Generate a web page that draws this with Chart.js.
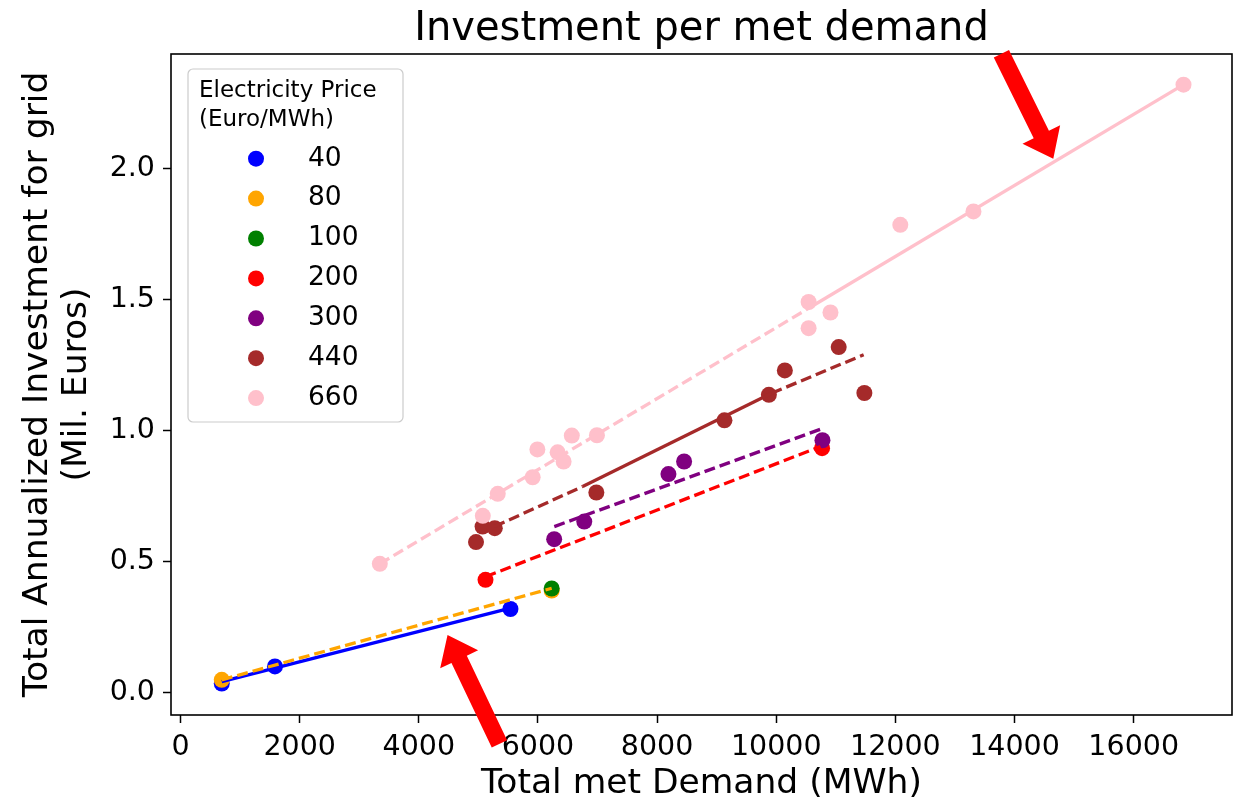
<!DOCTYPE html>
<html>
<head>
<meta charset="utf-8">
<title>Investment per met demand</title>
<script src="https://cdn.jsdelivr.net/npm/chart.js"></script>
<style>
    body { margin: 0; background: #fff; }
    #wrap { width: 1241px; height: 803px; }
</style>
</head>
<body>
<div id="wrap"><canvas id="chart" width="1241" height="803"></canvas></div>
<script type="text/javascript">
    // electricity price groups (Euro/MWh)
    var prices = ['40', '80', '100', '200', '300', '440', '660'];
    var priceColors = ['#0000ff', '#ffa500', '#008000', '#ff0000', '#800080', '#a52a2a', '#ffc0cb'];

    // scatter points: met demand (MWh) / annualized grid investment (Mil. Euros)
    var demand40 = [692, 1585, 5538];
    var invest40 = [0.036, 0.101, 0.320];
    var demand80 = [692, 6230];
    var invest80 = [0.050, 0.390];
    var demand100 = [6230];
    var invest100 = [0.398];
    var demand200 = [5119, 10769];
    var invest200 = [0.431, 0.933];
    var demand300 = [6272, 6777, 8190, 8453, 10775];
    var invest300 = [0.586, 0.653, 0.834, 0.882, 0.963];
    var demand440 = [4960, 5070, 5275, 6980, 9130, 9876, 10144, 11048, 11479];
    var invest440 = [0.575, 0.634, 0.628, 0.764, 1.039, 1.136, 1.229, 1.318, 1.143];
    var demand660 = [3345, 5074, 5325, 5911, 5990, 6330, 6430, 6568, 6990, 10543, 10543, 10910, 12082, 13310, 16836];
    var invest660 = [0.492, 0.675, 0.759, 0.822, 0.928, 0.917, 0.882, 0.981, 0.982, 1.390, 1.490, 1.450, 1.784, 1.835, 2.318];

    // trend lines (break points), style per segment
    var fitDemand40 = [692, 5538];
    var fitInvest40 = [0.043, 0.323];
    var fitStyle40 = ['solid'];
    var fitDemand80 = [692, 6230];
    var fitInvest80 = [0.050, 0.399];
    var fitStyle80 = ['dash'];
    var fitDemand200 = [5119, 10742];
    var fitInvest200 = [0.443, 0.939];
    var fitStyle200 = ['dash'];
    var fitDemand300 = [6274, 10742];
    var fitInvest300 = [0.634, 1.005];
    var fitStyle300 = ['dash'];
    var fitDemand440 = [5270, 6750, 9920, 11467];
    var fitInvest440 = [0.634, 0.787, 1.142, 1.289];
    var fitStyle440 = ['dash', 'solid', 'dash'];
    var fitDemand660 = [3345, 10543, 16836];
    var fitInvest660 = [0.492, 1.466, 2.318];
    var fitStyle660 = ['dash', 'solid'];

    var xTicks = [0, 2000, 4000, 6000, 8000, 10000, 12000, 14000, 16000];
    var yTicks = [0.0, 0.5, 1.0, 1.5, 2.0];

    var demandByPrice = [demand40, demand80, demand100, demand200, demand300, demand440, demand660];
    var investByPrice = [invest40, invest80, invest100, invest200, invest300, invest440, invest660];
    var fitDemandByPrice = [fitDemand40, fitDemand80, null, fitDemand200, fitDemand300, fitDemand440, fitDemand660];
    var fitInvestByPrice = [fitInvest40, fitInvest80, null, fitInvest200, fitInvest300, fitInvest440, fitInvest660];
    var fitStyleByPrice = [fitStyle40, fitStyle80, null, fitStyle200, fitStyle300, fitStyle440, fitStyle660];

    var FONT = '"DejaVu Sans", "Liberation Sans", sans-serif';

    var toPoints = function(xs, ys){
        var pts = [];
        for(var i = 0; i < xs.length; i++){
            pts.push({x: xs[i], y: ys[i]});
        }
        return pts;
    };

    var dashFor = function(styles){
        return function(ctx){
            return styles[ctx.p0DataIndex] === 'dash' ? [11, 5] : [];
        };
    };

    var datasets = [];
    for(var i = 0; i < prices.length; i++){
        datasets.push({
            label: prices[i],
            isPoint: true,
            data: toPoints(demandByPrice[i], investByPrice[i]),
            backgroundColor: priceColors[i],
            borderWidth: 0,
            pointRadius: 8,
            pointHoverRadius: 8,
            showLine: false
        });
    }
    for(var i = 0; i < prices.length; i++){
        if(!fitDemandByPrice[i]) continue;
        datasets.push({
            label: prices[i] + ' trend',
            data: toPoints(fitDemandByPrice[i], fitInvestByPrice[i]),
            borderColor: priceColors[i],
            backgroundColor: priceColors[i],
            borderWidth: 3.3,
            borderCapStyle: 'butt',
            pointRadius: 0,
            pointHoverRadius: 0,
            showLine: true,
            fill: false,
            segment: { borderDash: dashFor(fitStyleByPrice[i]) }
        });
    }
    // points go down first, trend lines on top (like the original plot)
    for(var k = 0; k < datasets.length; k++){
        datasets[k].order = datasets.length - 1 - k;
    }

    // frame + legend drawn inside the axes
    var framePlugin = {
        id: 'frameAndLegend',
        afterDatasetsDraw: function(chart){
            var ctx = chart.ctx, area = chart.chartArea;
            ctx.save();
            ctx.lineWidth = 1.6;
            ctx.strokeStyle = '#000';
            ctx.strokeRect(area.left, area.top, area.right - area.left, area.bottom - area.top);

            var bx = area.left + 17, by = area.top + 15, bw = 215, bh = 353;
            ctx.beginPath();
            ctx.roundRect(bx, by, bw, bh, 5);
            ctx.fillStyle = 'rgba(255,255,255,0.8)';
            ctx.fill();
            ctx.lineWidth = 1.2;
            ctx.strokeStyle = '#cccccc';
            ctx.stroke();

            ctx.fillStyle = '#000';
            ctx.textAlign = 'left';
            ctx.textBaseline = 'middle';
            ctx.font = '23px ' + FONT;
            ctx.fillText('Electricity Price', bx + 11, by + 21.7);
            ctx.fillText('(Euro/MWh)', bx + 11, by + 51);

            ctx.font = '26.5px ' + FONT;
            var items = chart.data.datasets.filter(function(d){ return d.isPoint; });
            for(var i = 0; i < items.length; i++){
                var cy = by + 89.7 + i * 39.9;
                ctx.beginPath();
                ctx.arc(bx + 68, cy, 8, 0, Math.PI * 2);
                ctx.fillStyle = items[i].backgroundColor;
                ctx.fill();
                ctx.fillStyle = '#000';
                ctx.fillText(items[i].label, bx + 120, cy);
            }
            ctx.restore();
        }
    };

    // the two red pointer arrows, tail -> tip in data units
    var arrowTails = [[13779, 2.436], [5353, -0.194]];
    var arrowTips = [[14650, 2.036], [4482, 0.221]];

    var arrowPlugin = {
        id: 'arrows',
        afterDraw: function(chart){
            var ctx = chart.ctx, sx = chart.scales.x, sy = chart.scales.y;
            ctx.save();
            ctx.fillStyle = '#ff0000';
            for(var i = 0; i < arrowTails.length; i++){
                var x0 = sx.getPixelForValue(arrowTails[i][0]), y0 = sy.getPixelForValue(arrowTails[i][1]);
                var x1 = sx.getPixelForValue(arrowTips[i][0]), y1 = sy.getPixelForValue(arrowTips[i][1]);
                var len = Math.sqrt((x1 - x0) * (x1 - x0) + (y1 - y0) * (y1 - y0));
                var ux = (x1 - x0) / len, uy = (y1 - y0) / len;
                var nx = -uy, ny = ux;
                var sw = 8.5, hw = 21, hl = 27;
                var bxp = x1 - ux * hl, byp = y1 - uy * hl;
                ctx.beginPath();
                ctx.moveTo(x0 + nx * sw, y0 + ny * sw);
                ctx.lineTo(bxp + nx * sw, byp + ny * sw);
                ctx.lineTo(bxp + nx * hw, byp + ny * hw);
                ctx.lineTo(x1, y1);
                ctx.lineTo(bxp - nx * hw, byp - ny * hw);
                ctx.lineTo(bxp - nx * sw, byp - ny * sw);
                ctx.lineTo(x0 - nx * sw, y0 - ny * sw);
                ctx.closePath();
                ctx.fill();
            }
            ctx.restore();
        }
    };

    var tickGrid = {
        display: true,
        drawOnChartArea: false,
        drawTicks: true,
        tickLength: 8,
        tickWidth: 1.5,
        tickColor: '#000'
    };

    new Chart(document.getElementById('chart').getContext('2d'), {
        type: 'scatter',
        data: { datasets: datasets },
        options: {
            responsive: false,
            maintainAspectRatio: false,
            animation: false,
            devicePixelRatio: 1,
            events: [],
            layout: { padding: { top: 0, right: 9, bottom: 0, left: 0 } },
            plugins: {
                legend: { display: false },
                tooltip: { enabled: false },
                title: {
                    display: true,
                    fullSize: false,
                    text: 'Investment per met demand',
                    color: '#000',
                    font: { family: FONT, size: 40, weight: 'normal', lineHeight: 1.2 },
                    padding: { top: 6, bottom: 0 }
                }
            },
            scales: {
                x: {
                    type: 'linear',
                    min: -160,
                    max: 17650,
                    border: { display: false },
                    grid: tickGrid,
                    afterBuildTicks: function(scale){
                        scale.ticks = xTicks.map(function(v){ return {value: v}; });
                    },
                    ticks: {
                        color: '#000',
                        font: { family: FONT, size: 28.5 },
                        padding: 7,
                        maxRotation: 0,
                        autoSkip: false,
                        callback: function(v){ return String(v); }
                    },
                    title: {
                        display: true,
                        text: 'Total met Demand (MWh)',
                        color: '#000',
                        font: { family: FONT, size: 34.5, lineHeight: 1 },
                        padding: { top: 0, bottom: 2 }
                    },
                    afterFit: function(scale){ scale.height = 88; }
                },
                y: {
                    type: 'linear',
                    min: -0.084,
                    max: 2.435,
                    border: { display: false },
                    grid: tickGrid,
                    afterBuildTicks: function(scale){
                        scale.ticks = yTicks.map(function(v){ return {value: v}; });
                    },
                    ticks: {
                        color: '#000',
                        font: { family: FONT, size: 28.5 },
                        padding: 8,
                        autoSkip: false,
                        callback: function(v){ return v.toFixed(1); }
                    },
                    title: {
                        display: true,
                        text: ['Total Annualized Investment for grid', '(Mil. Euros)'],
                        color: '#000',
                        font: { family: FONT, size: 34.5, lineHeight: 1.13 },
                        padding: { top: 19, bottom: 0 }
                    },
                    afterFit: function(scale){ scale.width = 171; }
                }
            }
        },
        plugins: [framePlugin, arrowPlugin]
    });
</script>
</body>
</html>
